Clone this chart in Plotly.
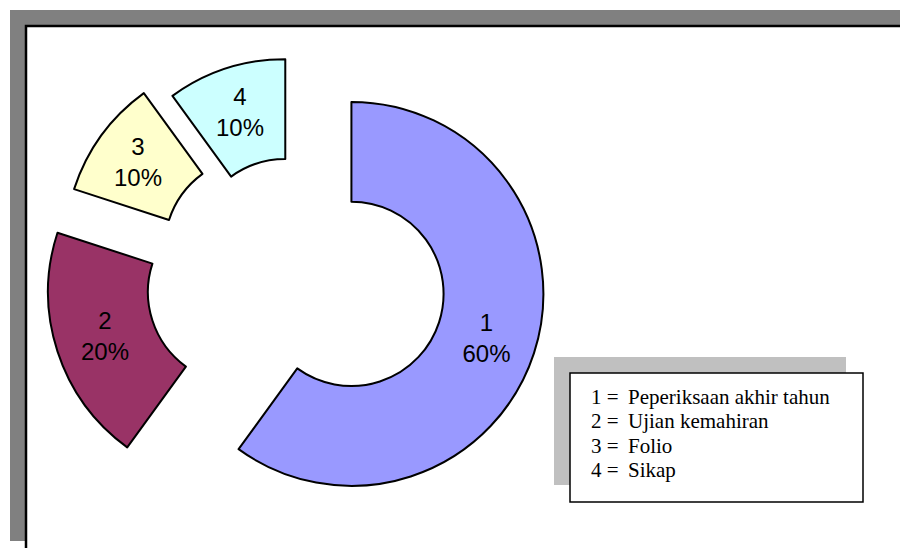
import plotly.graph_objects as go

labels = ["1", "2", "3", "4"]
values = [60, 20, 10, 10]
colors = ["#9999FF", "#993366", "#FFFFCC", "#CCFFFF"]
pulls = [0.32, 0.29, 0.234, 0.13]
legend_keys = ["1 =", "2 =", "3 =", "4 ="]
legend_names = ["Peperiksaan akhir tahun", "Ujian kemahiran", "Folio", "Sikap"]

W, H = 900, 548
def px(x):
    return x / W
def py(y):
    return 1 - y / H

fig = go.Figure()
fig.add_trace(go.Pie(
    labels=labels, values=values, sort=False, direction="clockwise", rotation=0,
    hole=0.48, pull=pulls,
    marker=dict(colors=colors, line=dict(color="black", width=2)),
    texttemplate="%{label}<br>%{percent:.0%}", textposition="inside",
    insidetextorientation="horizontal",
    insidetextfont=dict(family="Liberation Sans, Arial", size=24, color="black"),
    domain=dict(x=[0.0440, 0.6071], y=[0.0360, 0.9608]),
    showlegend=False, hoverinfo="label+percent",
))

shapes = [
    dict(type="rect", xref="paper", yref="paper", x0=px(10), x1=px(900), y0=py(541), y1=py(10),
         fillcolor="#808080", line=dict(width=0), layer="below"),
    dict(type="rect", xref="paper", yref="paper", x0=px(26), x1=px(910), y0=py(560), y1=py(26),
         fillcolor="white", line=dict(color="black", width=2.5), layer="below"),
    dict(type="rect", xref="paper", yref="paper", x0=px(554), x1=px(846), y0=py(485), y1=py(357),
         fillcolor="#C0C0C0", line=dict(width=0), layer="below"),
    dict(type="rect", xref="paper", yref="paper", x0=px(570), x1=px(863), y0=py(502), y1=py(373),
         fillcolor="white", line=dict(color="black", width=1.5), layer="below"),
]

annotations = []
for i, (k, n) in enumerate(zip(legend_keys, legend_names)):
    yy = 397 + i * 24.3
    annotations.append(dict(x=px(589), y=py(yy), xref="paper", yref="paper", text=k,
                            showarrow=False, xanchor="left", yanchor="middle",
                            font=dict(family="Liberation Serif, Times New Roman", size=21, color="black")))
    annotations.append(dict(x=px(626), y=py(yy), xref="paper", yref="paper", text=n,
                            showarrow=False, xanchor="left", yanchor="middle",
                            font=dict(family="Liberation Serif, Times New Roman", size=21, color="black")))

fig.update_layout(
    width=W, height=H, margin=dict(l=0, r=0, t=0, b=0),
    paper_bgcolor="white", plot_bgcolor="white",
    shapes=shapes, annotations=annotations,
)
fig.write_html("out.html", config={"displayModeBar": False},
               post_script="document.body.style.margin='0px';")
